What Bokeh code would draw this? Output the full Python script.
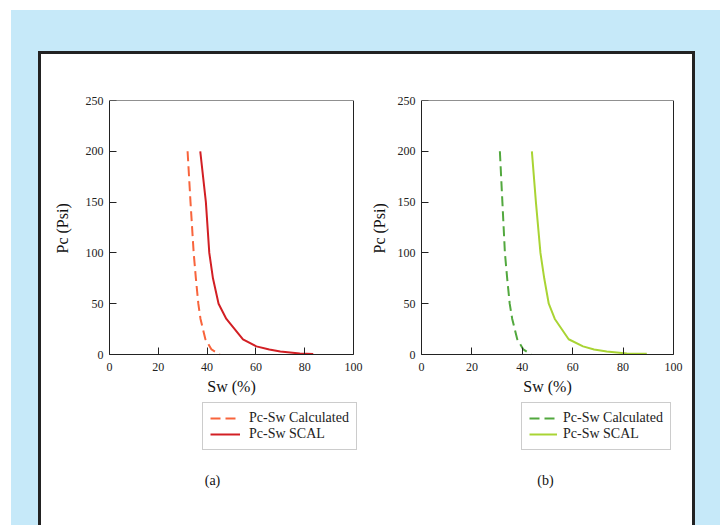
from bokeh.plotting import figure
from bokeh.layouts import row, column
from bokeh.models import Legend, LegendItem, Label, FixedTicker, LinearAxis, Title
from bokeh.embed import file_html
from bokeh.resources import INLINE

# ---- data ----
x_ticks = [0, 20, 40, 60, 80, 100]
y_ticks = [0, 50, 100, 150, 200, 250]

a_calc_sw = [32.0, 33.2, 34.5, 35.4, 36.4, 37.3, 39.3, 41.8, 45.2]
a_calc_pc = [200, 150, 100, 75, 50, 35, 15, 5, 0]
a_scal_sw = [37.2, 39.5, 40.9, 42.4, 44.7, 47.9, 54.7, 60.2, 65.5, 70.0, 78.0, 83.5]
a_scal_pc = [200, 150, 100, 75, 50, 35, 15, 8, 5, 3, 1, 0.5]

b_calc_sw = [31.1, 32.1, 33.1, 34.0, 35.0, 36.0, 38.0, 40.4, 43.5]
b_calc_pc = [200, 150, 100, 75, 50, 35, 15, 5, 0]
b_scal_sw = [43.8, 45.4, 47.2, 48.7, 50.5, 52.9, 58.4, 64.1, 68.5, 73.5, 81.5, 89.4]
b_scal_pc = [200, 150, 100, 75, 50, 35, 15, 8, 5, 3, 1, 0.7]

series_names = ["Pc-Sw Calculated", "Pc-Sw SCAL"]
captions = ["(a)", "(b)"]
x_label = "Sw (%)"
y_label = "Pc (Psi)"

SERIF = "Liberation Serif"
INK = "#222222"

# ---- layout constants (pixels) ----
FIG_H = 500
FRAME_TOP_BORDER = 46          # frame top at page y = 100
FRAME_BOTTOM_BORDER = 56
FRAME_H = FIG_H - FRAME_TOP_BORDER - FRAME_BOTTOM_BORDER      # 398 -> bottom at page y 498
BOX_H = 254                                                    # Pc 0..250 (page y 100..354)
Y_PX = BOX_H / 250.0
Y_START = 250 - FRAME_H / Y_PX


def page_y_from_bottom(page_y):
    return FRAME_H - (page_y - 100)


def blank_y_axis(loc, ticks, tick_in):
    ax = LinearAxis(fixed_location=loc, bounds=(0, 250),
                    ticker=FixedTicker(ticks=ticks),
                    major_label_overrides={t: "" for t in ticks})
    ax.major_label_standoff = 0
    ax.major_tick_in = tick_in
    ax.major_tick_out = 0
    ax.minor_tick_line_color = None
    ax.axis_line_color = INK
    ax.major_tick_line_color = INK if tick_in else None
    return ax


def make_panel(width, ml, mr, box_left_px, box_w_px, calc_sw, calc_pc, scal_sw,
               scal_pc, calc_color, scal_color, leg_x, leg_glyph_w, leg_standoff,
               caption, cap_x, ylab_standoff):
    frame_w = width - ml - mr
    x_px = box_w_px / 100.0
    x_start = -box_left_px / x_px
    x_end = x_start + frame_w / x_px
    p = figure(width=width, height=FIG_H, x_range=(x_start, x_end),
               y_range=(Y_START, 250),
               output_backend="svg", toolbar_location=None,
               min_border_left=ml, min_border_right=mr,
               min_border_top=FRAME_TOP_BORDER,
               min_border_bottom=FRAME_BOTTOM_BORDER)
    p.background_fill_color = "white"
    p.border_fill_color = "white"
    p.outline_line_color = None
    p.grid.visible = False

    # y tick labels (side axis, no line / ticks)
    ya = p.yaxis[0]
    ya.ticker = FixedTicker(ticks=y_ticks)
    ya.axis_line_color = None
    ya.major_tick_line_color = None
    ya.minor_tick_line_color = None
    ya.major_tick_in = 0
    ya.major_tick_out = 0
    ya.major_label_standoff = 1
    ya.major_label_text_font = SERIF
    ya.major_label_text_font_size = "12px"
    ya.major_label_text_color = INK

    # box: left edge with ticks, right edge
    p.add_layout(blank_y_axis(0, y_ticks, 7), "left")
    p.add_layout(blank_y_axis(100, [], 0), "left")

    # bottom axis at Pc = 0
    xa = p.xaxis[0]
    xa.fixed_location = 0
    xa.bounds = (0, 100)
    xa.ticker = FixedTicker(ticks=x_ticks)
    xa.major_tick_in = 7
    xa.major_tick_out = 0
    xa.minor_tick_line_color = None
    xa.axis_line_color = INK
    xa.major_tick_line_color = INK
    xa.major_label_standoff = 8
    xa.major_label_text_font = SERIF
    xa.major_label_text_font_size = "12px"
    xa.major_label_text_color = INK

    # top edge of the box
    top = LinearAxis(fixed_location=250, bounds=(0, 100),
                     ticker=FixedTicker(ticks=[]))
    top.major_tick_line_color = None
    top.minor_tick_line_color = None
    top.axis_line_color = INK
    top.major_label_standoff = 0
    p.add_layout(top, "below")

    # y axis title
    p.add_layout(Title(text=y_label, align="left", vertical_align="top",
                       offset=page_y_from_bottom(253), standoff=ylab_standoff,
                       text_font=SERIF, text_font_size="16px",
                       text_font_style="normal", text_color="#111111"), "left")

    r1 = p.line(calc_sw, calc_pc, line_color=calc_color, line_width=2,
                line_dash="10 5")
    r2 = p.line(scal_sw, scal_pc, line_color=scal_color, line_width=2)

    # x axis title
    p.add_layout(Label(x=50, y=page_y_from_bottom(386), x_units="data",
                       y_units="screen", text=x_label, text_font=SERIF,
                       text_font_size="16px", text_align="center",
                       text_baseline="middle", text_color="#111111"))

    leg = Legend(items=[LegendItem(label=series_names[0], renderers=[r1]),
                        LegendItem(label=series_names[1], renderers=[r2])],
                 location=(leg_x, page_y_from_bottom(450)))
    leg.label_text_font = SERIF
    leg.label_text_font_size = "14px"
    leg.label_text_color = INK
    leg.glyph_width = leg_glyph_w
    leg.glyph_height = 12
    leg.label_height = 12
    leg.label_standoff = leg_standoff
    leg.padding = 7
    leg.spacing = 0
    leg.margin = 0
    leg.border_line_color = "#9a9a9a"
    leg.border_line_width = 1
    leg.background_fill_color = "white"
    leg.background_fill_alpha = 1
    p.add_layout(leg, "center")

    p.add_layout(Label(x=cap_x, y=page_y_from_bottom(480), x_units="screen",
                       y_units="screen", text=caption, text_font=SERIF,
                       text_font_size="14px", text_align="center",
                       text_baseline="middle", text_color="#111111"))
    return p


# panel (a): figure spans x 41..366, frame 104..365, box 109..353
pa = make_panel(325, 63, 1, 5, 244, a_calc_sw, a_calc_pc, a_scal_sw, a_scal_pc,
                "#f8643c", "#d21f24", 98, 30, 9, captions[0], 108, 20)
# panel (b): figure spans x 366..692, frame 416..686, box 421..673
pb = make_panel(326, 50, 6, 5, 252, b_calc_sw, b_calc_pc, b_scal_sw, b_scal_pc,
                "#52a83e", "#a9d434", 105, 28, 6, captions[1], 129, 9)

panel = row(pa, pb, margin=(41, 0, 0, 27),
            styles={"background-color": "white", "border": "3px solid #222222"})
blue = column(panel, margin=(10, 0, 0, 11), width=709, height=515,
              styles={"background-color": "#c6e9f9", "overflow": "hidden"})
root = column(blue, width=720, height=525,
              styles={"background-color": "white", "overflow": "hidden"})

open("out.html", "w").write(file_html(root, INLINE))
